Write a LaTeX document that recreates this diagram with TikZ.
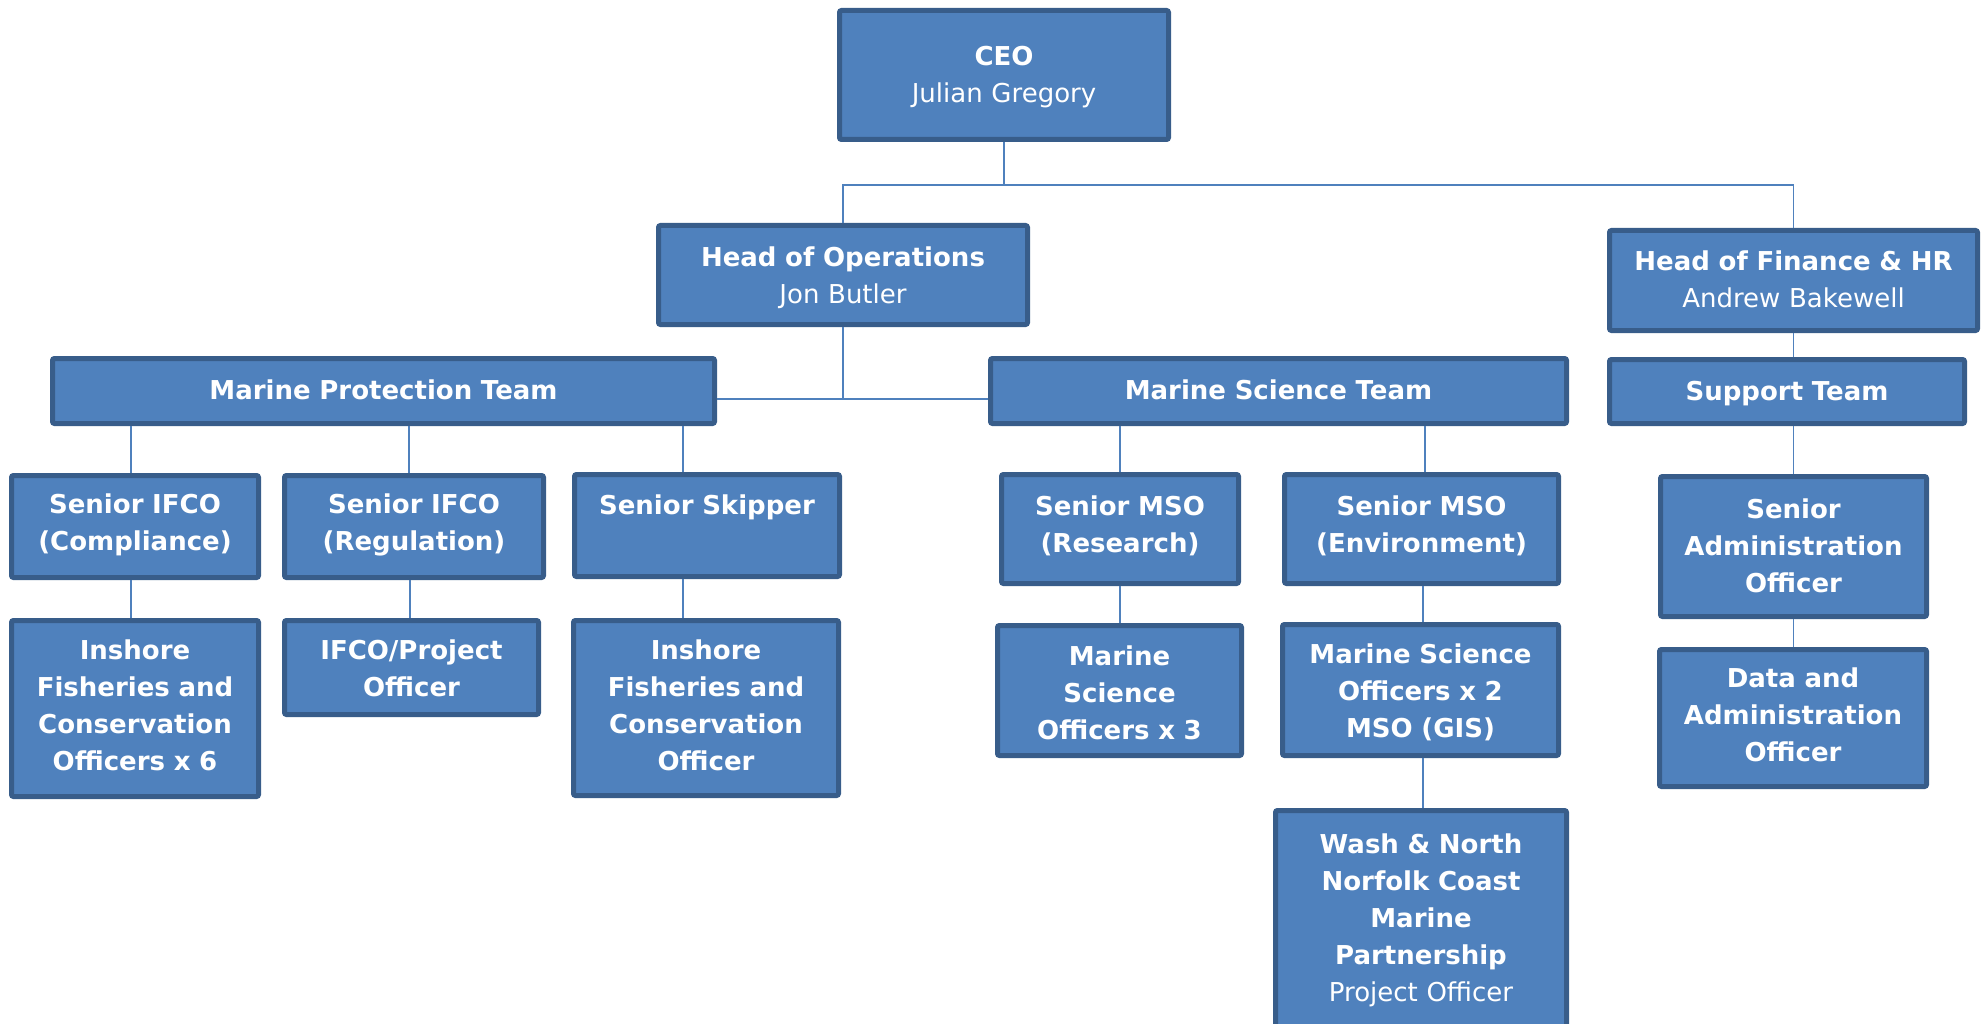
\documentclass[tikz,border=0pt]{standalone}
\usepackage{fontspec}
\setmainfont{DejaVu Sans}
\definecolor{boxfill}{HTML}{4F81BD}
\definecolor{boxline}{HTML}{385D8A}
\definecolor{wire}{HTML}{4F81BD}
\def\tdrop{0pt}
\begin{document}
\begin{tikzpicture}[x=1pt,y=-1pt,
  textdrop/.code={\def\tdrop{#1}},
  orgbox/.style n args={2}{draw=boxline, fill=boxfill, line width=5pt,
    rounded corners=2pt, text=white, align=center, inner sep=0pt,
    text width=#1-16pt,
    minimum width=#1-5pt, minimum height=#2-5pt,
    font={\fontsize{26}{37}\selectfont},
    execute at begin node={\rule{0pt}{\dimexpr20pt+2\dimexpr\tdrop\relax\relax}},
    execute at end node={\rule[-11.1pt]{0pt}{11.1pt}}},
  link/.style={draw=wire, line width=1.6pt}]
\useasboundingbox (0,0) rectangle (1988,1024);
\clip (0,0) rectangle (1988,1024);

% top level
\node[orgbox={334}{134}, textdrop=5pt] (ceo) at (1004,75) {\textbf{CEO}\\Julian Gregory};
\node[orgbox={374}{104}, textdrop=6pt] (hops) at (843,275) {\textbf{Head of Operations}\\Jon Butler};
\node[orgbox={373}{105}, textdrop=4pt] (hfin) at (1793.5,280.5) {\textbf{Head of Finance \& HR}\\Andrew Bakewell};

% teams
\node[orgbox={667}{70}, textdrop=4.5pt] (mpt) at (383.5,391) {\textbf{Marine Protection Team}};
\node[orgbox={581}{70}, textdrop=4.5pt] (mst) at (1278.5,391) {\textbf{Marine Science Team}};
\node[orgbox={360}{69}, textdrop=5pt] (sup) at (1787,391.5) {\textbf{Support Team}};

% marine protection
\node[orgbox={252}{107}, textdrop=1pt] (sifc) at (135,526.5) {\textbf{Senior IFCO}\\\textbf{(Compliance)}};
\node[orgbox={264}{107}, textdrop=1pt] (sifr) at (414,526.5) {\textbf{Senior IFCO}\\\textbf{(Regulation)}};
\node[orgbox={270}{107}, textdrop=3.5pt] (skip) at (707,525.5) {\textbf{Senior Skipper}\\\mbox{}};
\node[orgbox={252}{181}, textdrop=2.5pt] (ifc6) at (135,708.5) {\textbf{Inshore}\\\textbf{Fisheries and}\\\textbf{Conservation}\\\textbf{Officers x 6}};
\node[orgbox={259}{99}, textdrop=6pt] (ifcp) at (411.5,667.5) {\textbf{IFCO/Project}\\\textbf{Officer}};
\node[orgbox={270}{180}, textdrop=2.5pt] (ifco) at (706,708) {\textbf{Inshore}\\\textbf{Fisheries and}\\\textbf{Conservation}\\\textbf{Officer}};

% marine science
\node[orgbox={242}{114}, textdrop=1pt] (msor) at (1120,529) {\textbf{Senior MSO}\\\textbf{(Research)}};
\node[orgbox={279}{114}, textdrop=1pt] (msoe) at (1421.5,529) {\textbf{Senior MSO}\\\textbf{(Environment)}};
\node[orgbox={249}{135}, textdrop=7.5pt] (mso3) at (1119.5,690.5) {\textbf{Marine}\\\textbf{Science}\\\textbf{Officers x 3}};
\node[orgbox={281}{136}, textdrop=6pt] (mso2) at (1420.5,690) {\textbf{Marine Science}\\\textbf{Officers x 2}\\\textbf{MSO (GIS)}};
\node[orgbox={296}{222}, textdrop=4pt] (wash) at (1421,919) {\textbf{Wash \& North}\\\textbf{Norfolk Coast}\\\textbf{Marine}\\\textbf{Partnership}\\Project Officer};

% support
\node[orgbox={271}{145}, textdrop=5pt] (sadm) at (1793.5,546.5) {\textbf{Senior}\\\textbf{Administration}\\\textbf{Officer}};
\node[orgbox={272}{142}, textdrop=2.5pt] (dadm) at (1793,718) {\textbf{Data and}\\\textbf{Administration}\\\textbf{Officer}};

% connectors
\coordinate (topbus) at (0,185);
\coordinate (midbus) at (0,399);
\draw[link] (ceo.south) -- (ceo.south |- topbus);
\draw[link] (hops.north) -- (hops.north |- topbus) -- (hfin.north |- topbus) -- (hfin.north);
\draw[link] (hops.south) -- (hops.south |- midbus);
\draw[link] (mpt.east |- midbus) -- (mst.west |- midbus);

\draw[link] ([xshift=-4pt]sifc.north) -- ([xshift=-4pt]sifc.north |- mpt.south);
\draw[link] ([xshift=-5pt]sifr.north) -- ([xshift=-5pt]sifr.north |- mpt.south);
\draw[link] ([xshift=-24pt]skip.north) -- ([xshift=-24pt]skip.north |- mpt.south);
\draw[link] ([xshift=-4pt]sifc.south) -- ([xshift=-4pt]sifc.south |- ifc6.north);
\draw[link] ([xshift=-4pt]sifr.south) -- ([xshift=-4pt]sifr.south |- ifcp.north);
\draw[link] ([xshift=-24pt]skip.south) -- ([xshift=-24pt]skip.south |- ifco.north);

\draw[link] (msor.north) -- (msor.north |- mst.south);
\draw[link] ([xshift=3.5pt]msoe.north) -- ([xshift=3.5pt]msoe.north |- mst.south);
\draw[link] (msor.south) -- (msor.south |- mso3.north);
\draw[link] ([xshift=1.5pt]msoe.south) -- ([xshift=1.5pt]msoe.south |- mso2.north);
\draw[link] ([xshift=2.5pt]mso2.south) -- ([xshift=2.5pt]mso2.south |- wash.north);

\draw[link] (hfin.south) -- (hfin.south |- sup.north);
\draw[link] (sadm.north |- sup.south) -- (sadm.north);
\draw[link] (sadm.south) -- (sadm.south |- dadm.north);
\end{tikzpicture}
\end{document}
